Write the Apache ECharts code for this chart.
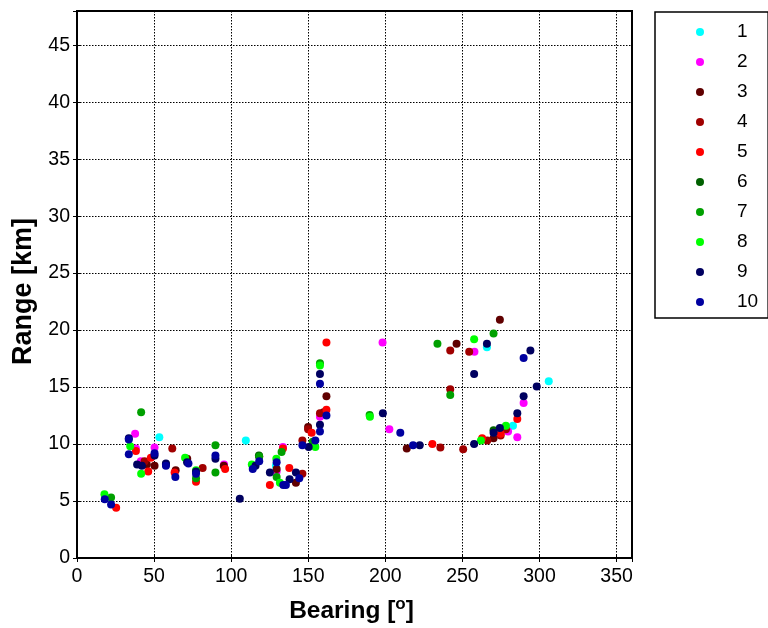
<!DOCTYPE html>
<html><head><meta charset="utf-8">
<script src="https://cdn.jsdelivr.net/npm/echarts@6/dist/echarts.min.js"></script>
<style>html,body{margin:0;padding:0;background:#fff}#c{width:768px;height:628px}</style>
</head><body><div id="c"></div>
<script>
const seriesNames = ['1','2','3','4','5','6','7','8','9','10'];
const seriesColors = ['#00FFFF','#FF00FF','#600000','#A00000','#FF0000','#006000','#00A000','#00FF00','#000060','#0000A0'];
const s1 = [[53.4,10.6],[109.5,10.3],[129,8.1],[265.9,18.5],[282.8,11.6],[306,15.5]];
const s2 = [[37.7,10.9],[38.2,9.6],[50.3,9.7],[41.4,8.5],[95.4,8.2],[133.6,9.75],[129.5,7.6],[157.6,12.4],[198.2,18.9],[202.6,11.3],[257.8,18.1],[289.7,13.6],[279.6,11.1],[285.6,10.6]];
const s3 = [[45.3,8.2],[50.3,8.1],[64,7.7],[71.5,8.7],[95.2,8.1],[129.5,7.8],[142,6.6],[149.9,11.5],[160,12.8],[161.8,14.2],[246.2,18.8],[274.3,20.9],[270.2,10.5],[213.9,9.6]];
const s4 = [[61.8,9.6],[43.8,8.5],[81.5,7.9],[118.2,8.9],[146.2,7.4],[146.2,10.3],[149.9,11.3],[157.6,12.7],[242.1,18.2],[254.4,18.1],[242.1,14.8],[235.7,9.7],[250.5,9.55],[266.1,10.3],[274.8,10.75],[278.2,11.3]];
const s5 = [[25.4,4.4],[38.2,9.4],[47.9,8.8],[46.2,7.6],[63.3,7.5],[77.2,6.7],[96.1,7.8],[125.1,6.4],[133.6,9.6],[137.7,7.9],[152.2,11.0],[161.8,13.0],[161.8,18.9],[230.5,10.0],[262.8,10.5],[274.8,10.9],[285.6,12.2]];
const s6 = [[57.7,8.2],[118,9.0],[270.2,11.2]];
const s7 = [[22.1,5.3],[41.6,12.8],[89.8,9.9],[89.8,7.5],[77.2,7.0],[118.2,8.9],[132.7,9.3],[129.5,7.1],[152.9,10.2],[157.6,17.1],[189.8,12.55],[233.8,18.8],[270.2,19.7],[242.1,14.3]];
const s8 = [[17.8,5.6],[34.5,9.8],[41.6,7.4],[70.1,8.8],[77.2,7.7],[113.4,8.2],[129.3,8.7],[131.6,6.6],[154.6,9.75],[157.6,16.9],[190,12.4],[257.6,19.2],[262,10.3],[278.2,11.6]];
const s9 = [[33.6,10.5],[39,8.2],[42.1,8.1],[50.3,9.0],[57.7,8.3],[71.4,8.4],[77.2,7.6],[89.8,8.7],[105.6,5.2],[115.8,8.1],[125.1,7.5],[137.9,6.9],[142,7.5],[150.3,9.75],[157.6,11.7],[157.6,16.15],[198.4,12.7],[222.3,9.9],[257.6,16.15],[257.6,10.0],[265.9,18.8],[270.2,11.0],[274.3,11.4],[285.6,12.7],[289.7,14.2],[294.1,18.2],[298.2,15.05]];
const s10 = [[18,5.15],[22.1,4.7],[33.6,10.4],[33.6,9.1],[50.3,9.2],[57.7,8.1],[63.8,7.1],[72.3,8.3],[77.2,7.4],[89.8,9.0],[114,7.8],[118.2,8.5],[129.5,8.4],[133.8,6.4],[135.5,6.4],[144.2,7.0],[146.2,9.9],[154.6,10.3],[157.6,11.1],[157.6,15.3],[161.8,12.5],[209.7,11.0],[218,9.9],[289.7,17.55]];
const allData = [s1,s2,s3,s4,s5,s6,s7,s8,s9,s10];

const FONT = '"Liberation Sans", Arial, sans-serif';
const chart = echarts.init(document.getElementById('c'), null, {renderer:'canvas'});
const tickStyle = {show: true, inside: true, length: 4, lineStyle: {color: '#000', width: 1}};
const gridLine = {show: true, lineStyle: {color: '#000', type: [1.5, 1.5], width: 1}};
chart.setOption({
  animation: false,
  backgroundColor: '#fff',
  grid: {left: 77, right: 136, top: 11, bottom: 70, outerBoundsMode: 'none', containLabel: false,
         show: true, borderColor: '#000', borderWidth: 2, backgroundColor: 'transparent'},
  legend: {
    orient: 'vertical', left: 655, top: 12,
    padding: [10, 10, 6, 41],
    itemWidth: 8, itemHeight: 8, itemGap: 10,
    borderColor: '#000', borderWidth: 1.5,
    icon: 'circle',
    textStyle: {fontFamily: FONT, fontSize: 19, color: '#000', lineHeight: 20, padding: [0, 0, 0, 28]},
    data: seriesNames
  },
  xAxis: [{
    type: 'value', min: 0, max: 360, interval: 50,
    name: '{a|Bearing [}{s|o}{a|]}', nameLocation: 'middle', nameGap: 38,
    nameTextStyle: {padding: [0, 6, 0, 0], rich: {
      a: {fontFamily: FONT, fontSize: 24.5, fontWeight: 'bold', color: '#000'},
      s: {fontFamily: FONT, fontSize: 17, fontWeight: 'bold', color: '#000', verticalAlign: 'top', padding: [0, 0, 13, 0]}
    }},
    axisLine: {show: true, lineStyle: {color: '#000', width: 2}},
    axisTick: tickStyle,
    axisLabel: {fontFamily: FONT, fontSize: 19.5, color: '#000', margin: 9, showMaxLabel: false},
    splitLine: gridLine
  }, {
    type: 'value', position: 'top', min: 0, max: 360, interval: 50,
    axisLine: {show: true, lineStyle: {color: '#000', width: 2}},
    axisTick: tickStyle, axisLabel: {show: false}, splitLine: {show: false}
  }],
  yAxis: [{
    type: 'value', min: 0, max: 48, interval: 5,
    name: 'Range [km]', nameLocation: 'middle', nameGap: 38,
    nameTextStyle: {fontFamily: FONT, fontSize: 27, fontWeight: 'bold', color: '#000', padding: [0, 14, 0, 0]},
    axisLine: {show: true, lineStyle: {color: '#000', width: 2}},
    axisTick: tickStyle,
    axisLabel: {fontFamily: FONT, fontSize: 19.5, color: '#000', margin: 7, showMaxLabel: false},
    splitLine: gridLine
  }, {
    type: 'value', position: 'right', min: 0, max: 48, interval: 5,
    axisLine: {show: true, lineStyle: {color: '#000', width: 2}},
    axisTick: tickStyle, axisLabel: {show: false}, splitLine: {show: false}
  }],
  series: seriesNames.map((n, i) => ({
    name: n, type: 'scatter', data: allData[i], symbol: 'circle', symbolSize: 8,
    xAxisIndex: 0, yAxisIndex: 0,
    itemStyle: {color: seriesColors[i], opacity: 1}
  }))
});
</script></body></html>
